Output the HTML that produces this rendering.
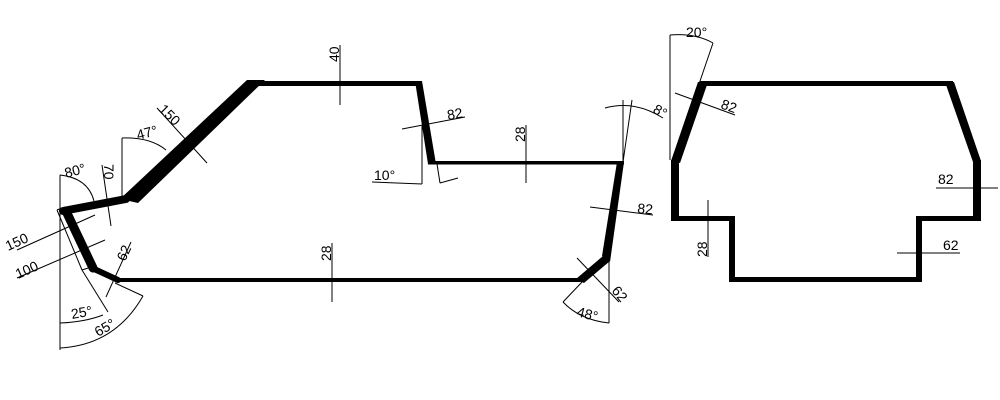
<!DOCTYPE html>
<html><head><meta charset="utf-8"><style>
html,body{margin:0;padding:0;background:#fff;}
svg{display:block}
text{font-family:"Liberation Sans",sans-serif;font-size:14px;fill:#000}
</style></head><body>
<svg width="1000" height="400" viewBox="0 0 1000 400" xmlns="http://www.w3.org/2000/svg">
<g fill="#000" stroke="none">
  <polygon points="247,80 265,80 138,203 120,199"/>
  <rect x="250" y="81" width="171" height="5"/>
  <polygon points="415,81 422,81 436,164 428,164"/>
  <rect x="428" y="161" width="196" height="3.5"/>
  <polygon points="617,162 624,162 610,262 602,256"/>
  <polygon points="603,256 610,261 584,283 576,279"/>
  <rect x="116" y="278" width="466" height="4"/>
</g>
<g stroke="#000" fill="none" stroke-linecap="round">
  <line x1="63" y1="211" x2="126" y2="199" stroke-width="8"/>
  <line x1="66" y1="211" x2="93" y2="268" stroke-width="9"/>
  <line x1="92" y1="268" x2="118" y2="280" stroke-width="6"/>
</g>
<g fill="#000">
  <rect x="700" y="81" width="253" height="5"/>
  <polygon points="698,82 708,82 680,163 671,161"/>
  <rect x="671" y="160" width="8" height="60"/>
  <rect x="671" y="216" width="64" height="5"/>
  <rect x="729" y="216" width="6" height="66"/>
  <rect x="729" y="277" width="193" height="5"/>
  <rect x="916" y="216" width="6" height="66"/>
  <rect x="916" y="216" width="65" height="5"/>
  <rect x="973" y="160" width="8" height="61"/>
  <polygon points="945,82 954,82 981,161 973,162"/>
</g>
<g stroke="#000" stroke-width="1" fill="none">
  <line x1="340" y1="45" x2="340" y2="105"/>
  <line x1="402" y1="129" x2="465" y2="117"/>
  <line x1="422" y1="126" x2="422" y2="184"/>
  <line x1="372" y1="182" x2="422" y2="184"/>
  <line x1="437" y1="164" x2="440" y2="183"/>
  <line x1="440" y1="183" x2="458" y2="178"/>
  <line x1="526" y1="125" x2="526" y2="183"/>
  <line x1="623" y1="100" x2="623" y2="162"/>
  <line x1="632" y1="100" x2="623" y2="162"/>
  <path d="M605,108 Q635,100 663,118"/>
  <line x1="590" y1="207" x2="653" y2="215"/>
  <line x1="577" y1="258" x2="619" y2="302"/>
  <line x1="583" y1="281" x2="563" y2="302"/>
  <line x1="609" y1="262" x2="609" y2="323"/>
  <path d="M563,302 Q580,320 609,323"/>
  <line x1="332" y1="243" x2="332" y2="302"/>
  <line x1="157" y1="108" x2="207" y2="163"/>
  <line x1="122" y1="138" x2="122" y2="198"/>
  <path d="M122,138 Q150,137 166,150"/>
  <line x1="102" y1="165" x2="111" y2="226"/>
  <line x1="60" y1="175" x2="60" y2="350"/>
  <path d="M60,175 Q88,178 94,201"/>
  <line x1="57" y1="210" x2="82" y2="270"/>
  <line x1="57" y1="210" x2="62" y2="208"/>
  <line x1="82" y1="270" x2="88" y2="268"/>
  <line x1="82" y1="270" x2="108" y2="312"/>
  <line x1="17" y1="250" x2="95" y2="215"/>
  <line x1="17" y1="278" x2="105" y2="240"/>
  <line x1="106" y1="297" x2="131" y2="242"/>
  <path d="M60,323 Q85,322 103,315"/>
  <line x1="115" y1="283" x2="143" y2="296"/>
  <path d="M60,348 Q115,345 143,296"/>
  <line x1="670" y1="35" x2="670" y2="160"/>
  <line x1="713" y1="43" x2="699" y2="84"/>
  <path d="M670,35 Q695,33 713,43"/>
  <line x1="675" y1="93" x2="735" y2="115"/>
  <line x1="936" y1="188" x2="998" y2="188"/>
  <line x1="708" y1="200" x2="708" y2="257"/>
  <line x1="897" y1="253" x2="960" y2="253"/>
</g>
<g>
  <text transform="translate(339,62) rotate(-90)">40</text>
  <text transform="translate(448,120) rotate(-10)">82</text>
  <text x="374" y="180">10°</text>
  <text transform="translate(525,142) rotate(-90)">28</text>
  <text transform="translate(652,112) rotate(30)">8°</text>
  <text transform="translate(637,213) rotate(5)">82</text>
  <text transform="translate(611,291) rotate(50)">62</text>
  <text transform="translate(576,316) rotate(15)">48°</text>
  <text transform="translate(331,261) rotate(-90)">28</text>
  <text transform="translate(158,110) rotate(45)">150</text>
  <text transform="translate(138,140) rotate(-15)">47°</text>
  <text transform="translate(104,164) rotate(90)">70</text>
  <text transform="translate(66,178) rotate(-15)">80°</text>
  <text transform="translate(8,251) rotate(-24)">150</text>
  <text transform="translate(18,279) rotate(-24)">100</text>
  <text transform="translate(125,262) rotate(-65)">62</text>
  <text transform="translate(72,319) rotate(-10)">25°</text>
  <text transform="translate(98,337) rotate(-30)">65°</text>
  <text x="686" y="37">20°</text>
  <text transform="translate(720,108) rotate(20)">82</text>
  <text x="938" y="184">82</text>
  <text transform="translate(707,257) rotate(-90)">28</text>
  <text x="943" y="250">62</text>
</g>
</svg>
</body></html>
